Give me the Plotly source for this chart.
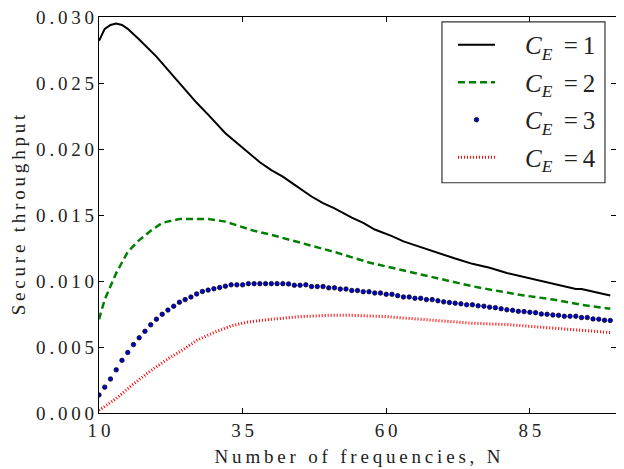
import plotly.graph_objects as go

# ---- data ----
n_ce1 = [10, 11, 12, 13, 14, 15, 17, 20, 22, 24, 27, 29, 32, 35, 38, 40, 42, 44, 47, 49,
         51, 54, 56, 58, 61, 63, 65, 68, 70, 72, 75, 78, 81, 84, 88, 91, 93, 94, 96, 99]
ce1 = [0.0282, 0.0291, 0.0294, 0.0295, 0.0294, 0.0291, 0.0283, 0.0270, 0.0260, 0.0250,
       0.0235, 0.0226, 0.0212, 0.0201, 0.0190, 0.0184, 0.0179, 0.0173, 0.0164, 0.0159,
       0.0155, 0.0148, 0.0144, 0.0139, 0.0134, 0.0130, 0.0127, 0.0123, 0.0120, 0.0117,
       0.0113, 0.0110, 0.0106, 0.0103, 0.0099, 0.0096, 0.0094, 0.0094, 0.0092, 0.0089]

n_ce2 = [10, 11, 12, 13, 15, 17, 19, 21, 24, 27, 29, 32, 34, 37, 40, 45, 51, 57, 63, 67,
         71, 75, 80, 84, 89, 94, 99]
ce2 = [0.0071, 0.0086, 0.0096, 0.0106, 0.0122, 0.0131, 0.0138, 0.0144, 0.0147, 0.0147,
       0.0147, 0.0145, 0.0142, 0.0138, 0.0135, 0.0129, 0.0122, 0.0114, 0.0108, 0.0104,
       0.0100, 0.0096, 0.0092, 0.0089, 0.0086, 0.0082, 0.0079]

n_ce3 = list(range(10, 100))
ce3 = [0.00137, 0.00196, 0.00258, 0.00327, 0.00399, 0.00458, 0.00518, 0.00570, 0.00619, 0.00668,
       0.00711, 0.00748, 0.00780, 0.00809, 0.00839, 0.00859, 0.00879, 0.00902, 0.00921, 0.00931,
       0.00941, 0.00951, 0.00961, 0.00971, 0.00971, 0.00971, 0.00980, 0.00980, 0.00980, 0.00980,
       0.00980, 0.00980, 0.00980, 0.00978, 0.00968, 0.00968, 0.00971, 0.00958, 0.00958, 0.00958,
       0.00948, 0.00948, 0.00939, 0.00939, 0.00928, 0.00928, 0.00919, 0.00919, 0.00909, 0.00909,
       0.00899, 0.00899, 0.00889, 0.00879, 0.00879, 0.00869, 0.00869, 0.00859, 0.00859, 0.00850,
       0.00842, 0.00837, 0.00832, 0.00827, 0.00820, 0.00820, 0.00812, 0.00809, 0.00802, 0.00798,
       0.00790, 0.00782, 0.00778, 0.00770, 0.00768, 0.00763, 0.00760, 0.00750, 0.00748, 0.00743,
       0.00740, 0.00733, 0.00733, 0.00733, 0.00723, 0.00723, 0.00713, 0.00711, 0.00703, 0.00701]

n_ce4 = [10, 13, 16, 19, 22, 25, 27, 30, 33, 36, 40, 45, 50, 54, 60, 66, 70, 75, 81, 87, 92, 99]
ce4 = [0.0002, 0.0011, 0.0022, 0.0032, 0.0041, 0.0049, 0.0055, 0.0061, 0.0066, 0.0069,
       0.0071, 0.0073, 0.0074, 0.0074, 0.0073, 0.0071, 0.0070, 0.0068, 0.0067, 0.0065,
       0.0063, 0.0061]

x_ticks = [10, 35, 60, 85]
y_ticks = [0.000, 0.005, 0.010, 0.015, 0.020, 0.025, 0.030]
y_tick_labels = ["0.000", "0.005", "0.010", "0.015", "0.020", "0.025", "0.030"]
ce_values = ["1", "2", "3", "4"]
x_title = "Number of frequencies, N"
y_title = "Secure throughput"

SP = "\u2009"
NB = "\u00a0"


def spaced(s):
    return SP.join(s)


def legend_label(v):
    return NB * 4 + "<i>C</i><sub><i>E</i></sub>" + NB + SP + "=" + SP + v


FONT = "Liberation Serif, Times New Roman, serif"

fig = go.Figure()
fig.add_trace(go.Scatter(x=n_ce1, y=ce1, mode="lines", name=legend_label(ce_values[0]),
                         legendgroup="a", line=dict(color="black", width=2)))
fig.add_trace(go.Scatter(x=n_ce2, y=ce2, mode="lines", name=legend_label(ce_values[1]),
                         legendgroup="b", line=dict(color="#008000", width=2.5, dash="7px,4px")))
fig.add_trace(go.Scatter(x=n_ce3, y=ce3, mode="markers", name=legend_label(ce_values[2]),
                         legendgroup="c",
                         marker=dict(color="#0000c8", size=4.5, line=dict(color="black", width=0.7))))
fig.add_trace(go.Scatter(x=n_ce4, y=ce4, mode="lines", name=legend_label(ce_values[3]),
                         legendgroup="d", line=dict(color="#ff0000", width=3, dash="1px,2px")))

axis_common = dict(showline=True, linecolor="black", linewidth=1.3, mirror="ticks",
                   ticks="inside", ticklen=5, tickwidth=1, tickcolor="black",
                   showgrid=False, zeroline=False, automargin=False,
                   ticklabeloverflow="allow",
                   tickfont=dict(family=FONT, size=19, color="#222"))

fig.update_xaxes(range=[10, 100], tickvals=x_ticks, ticktext=[spaced(str(v)) for v in x_ticks],
                 title=dict(text=spaced(x_title), font=dict(family=FONT, size=19, color="#222"),
                            standoff=9),
                 **axis_common)
fig.update_yaxes(range=[0, 0.03], tickvals=y_ticks, ticktext=[spaced(t) for t in y_tick_labels],
                 title=dict(text=spaced(y_title), font=dict(family=FONT, size=19, color="#222"),
                            standoff=8),
                 **axis_common)

# legend frame
fig.add_shape(type="rect", xref="paper", yref="paper",
              x0=0.6634, x1=0.9787, y0=0.5815, y1=0.9875,
              line=dict(color="#333", width=1.2), fillcolor="white", layer="above")

# the page body adds an 8px offset, so the figure is sized/margined to compensate;
# a slightly larger top margin keeps the "0.030" label inside the figure
fig.update_layout(
    width=616, height=461,
    margin=dict(l=91, r=8, t=9, b=56),
    paper_bgcolor="white", plot_bgcolor="white",
    showlegend=True,
    legend=dict(x=0.6847, y=0.9875, xanchor="left", yanchor="top",
                bgcolor="rgba(0,0,0,0)", borderwidth=0,
                font=dict(family=FONT, size=25, color="#222"),
                tracegroupgap=2, itemwidth=37),
)

fig.write_html("out.html")
